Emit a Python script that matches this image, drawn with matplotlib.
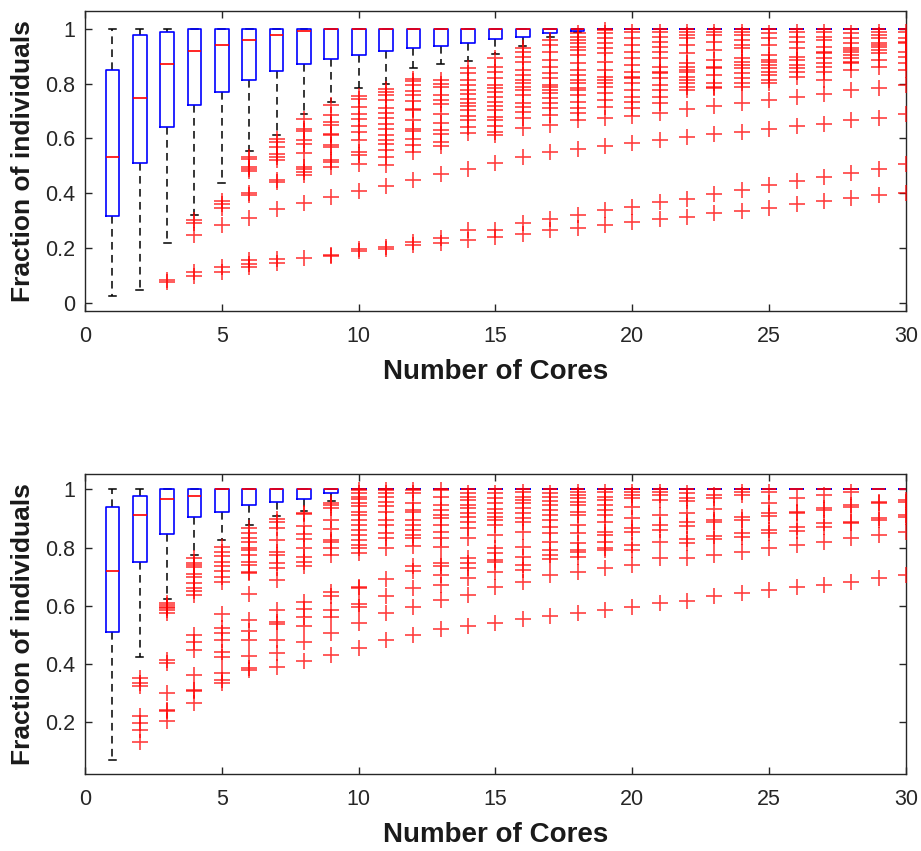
import matplotlib
matplotlib.use('Agg')
import matplotlib.pyplot as plt

plt.rcParams['font.family'] = ['Liberation Sans', 'DejaVu Sans']

cores = list(range(1, 31))
xticks = [0, 5, 10, 15, 20, 25, 30]

# ---------------- top panel ----------------
top_q1 = [0.316, 0.512, 0.640, 0.720, 0.769, 0.814, 0.846, 0.872, 0.888, 0.905,
          0.917, 0.929, 0.937, 0.949, 0.962, 0.971, 0.983, 0.991] + [1.0] * 12
top_med = [0.533, 0.748, 0.870, 0.917, 0.942, 0.957, 0.978, 0.990] + [1.0] * 22
top_q3 = [0.848, 0.978, 0.988] + [1.0] * 27
top_wlo = [0.024, 0.049, 0.220, 0.321, 0.436, 0.555, 0.613, 0.688, 0.733, 0.785,
           0.797, 0.856, 0.871, 0.882, 0.906, 0.935, 0.970, 0.988] + [1.0] * 12
top_whi = [1.0] * 30
top_fliers = [
    [],
    [],
    [0.085, 0.077],
    [0.301, 0.292, 0.249, 0.112, 0.097],
    [0.371, 0.360, 0.348, 0.283, 0.131, 0.113],
    [0.532, 0.526, 0.496, 0.490, 0.483, 0.401, 0.395, 0.310, 0.156, 0.143, 0.131],
    [0.599, 0.587, 0.569, 0.544, 0.532, 0.520, 0.447, 0.441, 0.343, 0.162, 0.147],
    [0.672, 0.635, 0.626, 0.593, 0.581, 0.547, 0.496, 0.487, 0.477, 0.465, 0.365, 0.165],
    [0.720, 0.686, 0.660, 0.648, 0.617, 0.611, 0.575, 0.569, 0.520, 0.514, 0.496, 0.386, 0.177, 0.170],
    [0.753, 0.745, 0.714, 0.690, 0.672, 0.647, 0.623, 0.593, 0.550, 0.538, 0.508, 0.407, 0.198, 0.190],
    [0.781, 0.769, 0.757, 0.739, 0.711, 0.694, 0.674, 0.654, 0.635, 0.611, 0.593, 0.581, 0.556, 0.532,
     0.502, 0.425, 0.204, 0.198],
    [0.818, 0.808, 0.793, 0.771, 0.759, 0.735, 0.708, 0.702, 0.666, 0.635, 0.626, 0.599, 0.575, 0.550,
     0.447, 0.222, 0.210],
    [0.814, 0.800, 0.787, 0.759, 0.740, 0.724, 0.690, 0.656, 0.630, 0.617, 0.587, 0.571, 0.469, 0.237, 0.219],
    [0.858, 0.837, 0.813, 0.795, 0.776, 0.761, 0.742, 0.728, 0.719, 0.703, 0.683, 0.667, 0.643, 0.618,
     0.490, 0.265, 0.231],
    [0.894, 0.861, 0.841, 0.819, 0.795, 0.782, 0.768, 0.752, 0.734, 0.719, 0.703, 0.679, 0.667, 0.646,
     0.624, 0.612, 0.510, 0.267, 0.241],
    [0.928, 0.916, 0.898, 0.880, 0.849, 0.831, 0.813, 0.801, 0.788, 0.776, 0.758, 0.728, 0.716, 0.697,
     0.673, 0.637, 0.532, 0.292, 0.250],
    [0.958, 0.940, 0.916, 0.886, 0.861, 0.837, 0.819, 0.795, 0.789, 0.776, 0.764, 0.746, 0.728, 0.709,
     0.685, 0.650, 0.550, 0.307, 0.265],
    [0.983, 0.971, 0.958, 0.946, 0.934, 0.922, 0.904, 0.873, 0.849, 0.831, 0.813, 0.801, 0.782, 0.776,
     0.758, 0.734, 0.710, 0.691, 0.667, 0.563, 0.322, 0.273],
    [0.995, 0.983, 0.965, 0.946, 0.928, 0.910, 0.880, 0.849, 0.825, 0.813, 0.801, 0.789, 0.764, 0.740,
     0.716, 0.674, 0.572, 0.338, 0.283],
    [0.989, 0.965, 0.940, 0.916, 0.892, 0.867, 0.843, 0.825, 0.819, 0.801, 0.776, 0.752, 0.734, 0.710,
     0.682, 0.583, 0.350, 0.295],
    [0.989, 0.971, 0.952, 0.934, 0.916, 0.892, 0.861, 0.843, 0.837, 0.819, 0.795, 0.776, 0.752, 0.728,
     0.693, 0.595, 0.367, 0.305],
    [0.989, 0.977, 0.965, 0.940, 0.910, 0.873, 0.861, 0.849, 0.843, 0.825, 0.813, 0.801, 0.789, 0.776,
     0.707, 0.605, 0.379, 0.313],
    [0.989, 0.977, 0.952, 0.922, 0.886, 0.861, 0.855, 0.831, 0.801, 0.789, 0.782, 0.717, 0.615, 0.396, 0.328],
    [0.989, 0.977, 0.958, 0.940, 0.928, 0.892, 0.880, 0.867, 0.855, 0.837, 0.819, 0.801, 0.789, 0.729,
     0.623, 0.413, 0.335],
    [0.983, 0.965, 0.940, 0.904, 0.886, 0.880, 0.867, 0.855, 0.843, 0.831, 0.813, 0.801, 0.739, 0.633,
     0.429, 0.348],
    [0.989, 0.971, 0.952, 0.928, 0.898, 0.886, 0.867, 0.855, 0.843, 0.825, 0.751, 0.645, 0.443, 0.360],
    [0.989, 0.971, 0.958, 0.934, 0.916, 0.910, 0.892, 0.873, 0.861, 0.843, 0.813, 0.763, 0.654, 0.459, 0.371],
    [0.983, 0.965, 0.946, 0.928, 0.922, 0.916, 0.904, 0.892, 0.880, 0.873, 0.849, 0.775, 0.666, 0.474, 0.383],
    [0.989, 0.977, 0.965, 0.946, 0.940, 0.934, 0.922, 0.910, 0.886, 0.861, 0.784, 0.676, 0.490, 0.392],
    [0.989, 0.965, 0.952, 0.946, 0.916, 0.898, 0.873, 0.849, 0.796, 0.688, 0.508, 0.402],
]
top_yticks = [0, 0.2, 0.4, 0.6, 0.8, 1.0]
top_yticklabels = ['0', '0.2', '0.4', '0.6', '0.8', '1']

# ---------------- bottom panel ----------------
bot_q1 = [0.509, 0.751, 0.846, 0.906, 0.923, 0.946, 0.958, 0.966, 0.986] + [1.0] * 21
bot_med = [0.721, 0.913, 0.966, 0.977] + [1.0] * 26
bot_q3 = [0.939, 0.977] + [1.0] * 28
bot_wlo = [0.069, 0.423, 0.624, 0.775, 0.826, 0.876, 0.910, 0.925, 0.961] + [1.0] * 21
bot_whi = [1.0] * 30
bot_fliers = [
    [],
    [0.351, 0.334, 0.323, 0.220, 0.197, 0.174, 0.134],
    [0.611, 0.603, 0.597, 0.592, 0.584, 0.574, 0.414, 0.403, 0.300, 0.242, 0.238, 0.203],
    [0.763, 0.748, 0.740, 0.732, 0.709, 0.698, 0.677, 0.660, 0.651, 0.637, 0.500, 0.477, 0.449, 0.363,
     0.311, 0.306, 0.266],
    [0.803, 0.786, 0.771, 0.752, 0.737, 0.721, 0.700, 0.683, 0.572, 0.525, 0.506, 0.483, 0.443, 0.423,
     0.368, 0.345, 0.334],
    [0.866, 0.849, 0.832, 0.820, 0.798, 0.792, 0.775, 0.752, 0.740, 0.717, 0.712, 0.641, 0.552, 0.512,
     0.483, 0.426, 0.386, 0.378],
    [0.897, 0.886, 0.866, 0.826, 0.783, 0.775, 0.748, 0.729, 0.689, 0.586, 0.543, 0.538, 0.483, 0.437, 0.391],
    [0.920, 0.915, 0.874, 0.847, 0.828, 0.798, 0.769, 0.752, 0.737, 0.614, 0.588, 0.563, 0.529, 0.474, 0.412],
    [0.954, 0.946, 0.935, 0.895, 0.863, 0.826, 0.820, 0.798, 0.775, 0.649, 0.632, 0.584, 0.563, 0.506, 0.432],
    [0.998, 0.986, 0.975, 0.966, 0.952, 0.941, 0.923, 0.912, 0.895, 0.878, 0.860, 0.843, 0.826, 0.809,
     0.798, 0.780, 0.666, 0.660, 0.606, 0.597, 0.540, 0.454],
    [0.998, 0.986, 0.975, 0.958, 0.941, 0.923, 0.895, 0.878, 0.849, 0.832, 0.798, 0.691, 0.632, 0.574, 0.481],
    [0.998, 0.986, 0.952, 0.929, 0.923, 0.895, 0.878, 0.860, 0.843, 0.832, 0.806, 0.735, 0.721, 0.661,
     0.597, 0.498],
    [0.998, 0.975, 0.946, 0.929, 0.912, 0.901, 0.878, 0.855, 0.832, 0.803, 0.746, 0.737, 0.706, 0.672,
     0.620, 0.520],
    [0.989, 0.975, 0.963, 0.946, 0.935, 0.918, 0.906, 0.889, 0.866, 0.832, 0.763, 0.746, 0.729, 0.694,
     0.637, 0.529],
    [0.986, 0.969, 0.952, 0.931, 0.918, 0.904, 0.895, 0.878, 0.843, 0.797, 0.780, 0.757, 0.752, 0.717,
     0.666, 0.542],
    [0.992, 0.975, 0.963, 0.952, 0.935, 0.918, 0.900, 0.889, 0.855, 0.803, 0.769, 0.740, 0.723, 0.683, 0.554],
    [0.986, 0.975, 0.961, 0.946, 0.929, 0.912, 0.895, 0.872, 0.849, 0.820, 0.792, 0.775, 0.760, 0.706, 0.565],
    [0.992, 0.981, 0.969, 0.958, 0.946, 0.923, 0.912, 0.878, 0.849, 0.815, 0.792, 0.783, 0.769, 0.717, 0.574],
    [0.992, 0.975, 0.963, 0.946, 0.929, 0.912, 0.889, 0.855, 0.843, 0.820, 0.797, 0.792, 0.729, 0.586],
    [0.992, 0.981, 0.969, 0.940, 0.900, 0.866, 0.855, 0.809, 0.792, 0.740, 0.597],
    [0.992, 0.981, 0.963, 0.912, 0.878, 0.860, 0.820, 0.763, 0.609],
    [0.989, 0.969, 0.961, 0.920, 0.886, 0.874, 0.828, 0.815, 0.763, 0.618],
    [0.981, 0.969, 0.931, 0.895, 0.886, 0.838, 0.828, 0.775, 0.632],
    [0.992, 0.981, 0.906, 0.895, 0.849, 0.835, 0.786, 0.643],
    [0.992, 0.954, 0.918, 0.908, 0.860, 0.849, 0.797, 0.655],
    [0.969, 0.923, 0.918, 0.872, 0.858, 0.809, 0.663],
    [0.981, 0.935, 0.929, 0.883, 0.872, 0.820, 0.672],
    [0.992, 0.946, 0.940, 0.889, 0.883, 0.832, 0.683],
    [0.958, 0.952, 0.900, 0.895, 0.843, 0.695],
    [0.963, 0.958, 0.912, 0.904, 0.855, 0.706],
]
bot_yticks = [0.2, 0.4, 0.6, 0.8, 1.0]
bot_yticklabels = ['0.2', '0.4', '0.6', '0.8', '1']

xlabel_text = 'Number of Cores'
ylabel_text = 'Fraction of individuals'

AXC = '#262626'


def draw(ax, q1, med, q3, wlo, whi, fliers, ylim, yticks, yticklabels):
    stats = []
    for a, m, b, lo, hi, f in zip(q1, med, q3, wlo, whi, fliers):
        stats.append(dict(q1=a, med=m, q3=b, whislo=lo, whishi=hi, fliers=f))
    ax.bxp(stats, positions=cores, widths=0.5, capwidths=0.25, showfliers=True,
           manage_ticks=False,
           boxprops=dict(color='blue', lw=1.2, zorder=2.2),
           medianprops=dict(color='red', lw=1.2, zorder=2.5),
           whiskerprops=dict(color='black', lw=1.1, linestyle=(0, (5, 3.5)), zorder=2),
           capprops=dict(color='black', lw=1.1, zorder=2),
           flierprops=dict(marker='+', markeredgecolor='red', markersize=11,
                           markeredgewidth=1.2, alpha=0.75, linestyle='none', zorder=3))
    ax.set_xlim(0, 30)
    ax.set_ylim(*ylim)
    ax.set_xticks(xticks)
    ax.set_xticklabels([str(t) for t in xticks])
    ax.set_yticks(yticks)
    ax.set_yticklabels(yticklabels)
    ax.tick_params(direction='in', length=5, width=1.0, colors=AXC, labelsize=15.5,
                   top=True, right=True)
    ax.tick_params(axis='x', pad=11)
    ax.tick_params(axis='y', pad=7)
    for sp in ax.spines.values():
        sp.set_color(AXC)
        sp.set_linewidth(1.0)
    ax.set_xlabel(xlabel_text, fontsize=20, fontweight='bold', color='#1a1a1a', va='center')
    ax.set_ylabel(ylabel_text, fontsize=19, fontweight='bold', color='#1a1a1a', va='center')
    ax.xaxis.set_label_coords(0.5, -0.203)
    ax.yaxis.set_label_coords(-0.0755, 0.5)


fig = plt.figure(figsize=(9.21, 8.51), dpi=100)
ax1 = fig.add_axes([0.0923, 0.6345, 0.8914, 0.3525])
ax2 = fig.add_axes([0.0923, 0.0905, 0.8914, 0.3525])

draw(ax1, top_q1, top_med, top_q3, top_wlo, top_whi, top_fliers,
     (-0.029, 1.064), top_yticks, top_yticklabels)
draw(ax2, bot_q1, bot_med, bot_q3, bot_wlo, bot_whi, bot_fliers,
     (0.0225, 1.0525), bot_yticks, bot_yticklabels)

fig.savefig('out.png', dpi=100)
